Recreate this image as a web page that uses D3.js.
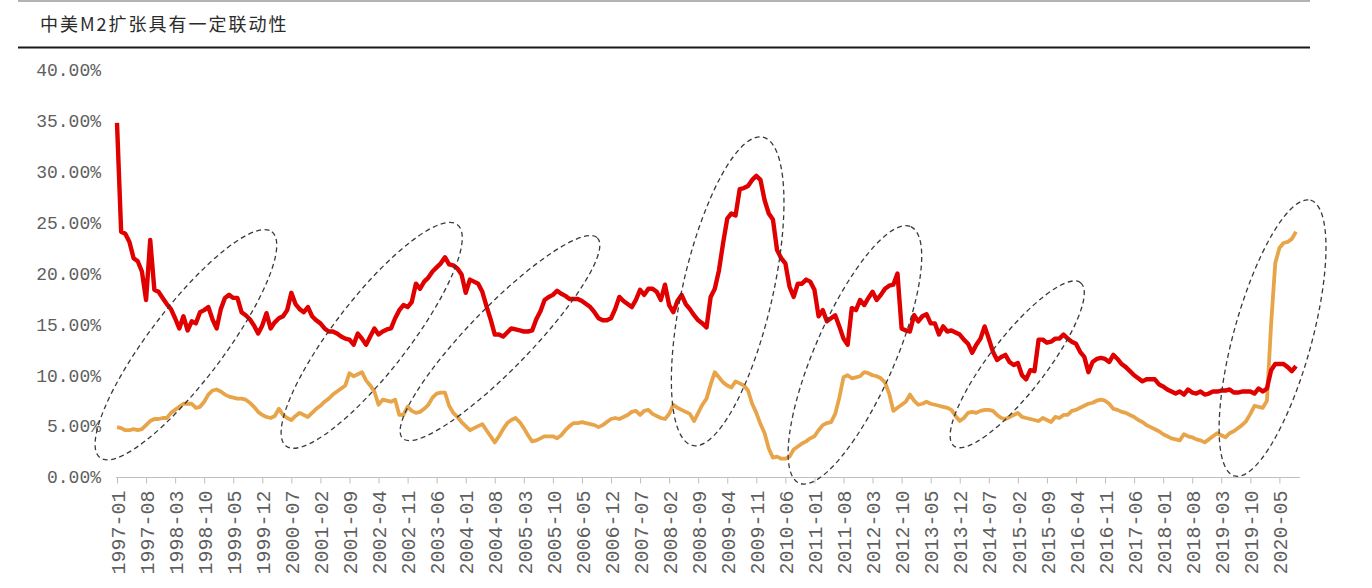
<!DOCTYPE html>
<html><head><meta charset="utf-8">
<script src="https://cdn.jsdelivr.net/npm/d3@7/dist/d3.min.js"></script>
<style>body{margin:0;background:#fff}</style>
</head><body><svg id="c" width="1372" height="588"></svg>
<script>
const title = "中美M2扩张具有一定联动性";

// China M2 YoY (%), monthly from 1997-01
const chinaM2 = [
34.8,24.1,23.9,23.1,21.5,21.2,20.2,17.4,23.3,18.4,18.2,17.6,
17.0,16.5,15.6,14.6,15.8,14.4,15.3,15.1,16.2,16.4,16.7,15.5,
14.6,16.5,17.6,17.9,17.6,17.6,16.2,15.9,15.5,14.9,14.1,14.9,
16.1,14.6,15.2,15.6,15.8,16.4,18.1,17.0,16.5,16.2,16.7,15.8,
15.4,15.1,14.6,14.3,14.3,14.1,13.8,13.6,13.5,13.0,14.1,13.6,
13.0,13.8,14.6,14.0,14.3,14.5,14.6,15.6,16.4,16.9,16.7,17.2,
19.0,18.5,19.2,19.6,20.2,20.6,21.0,21.6,20.9,20.8,20.5,19.9,
18.1,19.4,19.2,19.0,18.2,16.8,15.5,14.0,14.0,13.8,14.2,14.6,
14.5,14.4,14.3,14.3,14.4,15.5,16.3,17.4,17.7,17.9,18.3,18.0,
17.8,17.5,17.5,17.5,17.3,17.0,16.7,16.2,15.6,15.4,15.4,15.6,
16.5,17.7,17.3,17.0,16.7,17.4,18.4,17.9,18.5,18.5,18.2,17.4,
18.9,16.9,16.2,17.3,17.9,17.0,16.5,15.9,15.4,15.1,14.7,17.7,
18.5,20.3,23.0,25.4,25.9,25.7,28.3,28.4,28.6,29.2,29.6,29.2,
27.2,25.9,25.3,22.3,21.5,21.0,18.7,17.7,19.0,19.0,19.4,19.2,
18.4,15.8,16.4,15.3,15.6,15.9,14.8,13.6,13.0,16.6,16.4,17.4,
16.9,17.6,18.2,17.4,17.9,18.5,18.8,18.9,20.0,14.6,14.4,14.3,
15.9,15.3,15.8,16.0,15.1,15.1,14.0,14.8,14.3,14.4,14.2,14.0,
13.5,13.1,12.2,13.0,13.6,14.8,13.6,12.3,11.5,11.8,12.0,11.3,
11.0,11.2,10.0,9.6,10.5,10.4,13.5,13.5,13.2,13.3,13.6,13.6,
14.0,13.6,13.3,13.1,12.3,11.8,10.3,11.3,11.6,11.7,11.6,11.3,
12.0,11.6,11.1,10.8,10.4,10.0,9.7,9.4,9.6,9.6,9.6,9.1,
8.9,8.6,8.4,8.2,8.4,8.1,8.6,8.3,8.2,8.4,8.1,8.2,
8.4,8.4,8.5,8.5,8.6,8.3,8.3,8.4,8.4,8.4,8.2,8.7,
8.4,8.7,10.5,11.1,11.1,11.1,10.8,10.4,10.9
];

// US M2 YoY (%), monthly from 1997-01
const usM2 = [
4.9,4.8,4.6,4.6,4.7,4.6,4.7,5.1,5.5,5.7,5.7,5.8,
5.8,6.3,6.6,6.9,7.2,7.2,7.2,6.8,6.9,7.4,8.1,8.5,
8.6,8.4,8.1,7.9,7.8,7.7,7.7,7.6,7.3,6.9,6.4,6.1,
5.9,5.8,6.0,6.7,6.1,5.8,5.6,6.0,6.3,6.1,5.9,6.3,
6.7,7.0,7.4,7.7,8.1,8.4,8.7,9.0,10.2,9.9,10.1,10.3,
9.5,9.0,8.4,7.1,7.6,7.5,7.4,7.6,6.1,6.1,6.9,6.5,
6.3,6.4,6.7,7.1,7.8,8.2,8.3,8.3,7.0,6.3,5.9,5.4,
5.0,4.6,4.8,5.0,5.2,4.6,4.0,3.4,4.0,4.7,5.3,5.6,
5.8,5.4,4.8,4.1,3.5,3.6,3.8,4.0,4.0,4.0,3.8,4.1,
4.6,5.0,5.3,5.3,5.4,5.3,5.2,5.1,4.9,5.1,5.4,5.7,
5.8,5.7,5.9,6.1,6.4,6.5,6.1,6.5,6.6,6.2,6.0,5.8,
5.7,6.2,7.1,6.8,6.6,6.4,6.2,5.5,6.3,7.1,7.7,9.1,
10.3,9.8,9.3,9.0,8.8,9.4,9.2,9.0,8.5,7.2,6.3,5.2,
4.3,2.8,1.9,2.0,1.8,1.8,2.0,2.7,3.0,3.3,3.5,3.8,
4.0,4.6,5.1,5.3,5.4,6.2,7.8,9.8,10.0,9.7,9.8,9.9,
10.3,10.2,10.0,9.9,9.7,9.3,8.2,6.5,6.8,7.1,7.4,8.1,
7.5,7.1,7.2,7.4,7.2,7.1,7.0,6.9,6.8,6.6,6.0,5.5,
5.8,6.3,6.4,6.3,6.5,6.6,6.6,6.5,6.1,5.8,5.7,5.9,
6.1,6.3,5.9,5.8,5.7,5.6,5.5,5.8,5.6,5.4,5.9,5.8,
6.1,6.1,6.5,6.6,6.8,7.0,7.2,7.3,7.5,7.6,7.5,7.2,
6.7,6.6,6.4,6.3,6.1,5.9,5.6,5.4,5.1,4.9,4.7,4.5,
4.2,4.0,3.8,3.7,3.6,4.2,4.0,3.9,3.7,3.6,3.4,3.7,
4.0,4.3,4.1,3.9,4.3,4.5,4.8,5.1,5.5,6.2,7.0,6.9,
6.8,7.5,15.0,21.0,22.5,23.0,23.1,23.4,24.1
];

const yTicks = [0,5,10,15,20,25,30,35,40];
const xTickLabels = ["1997-01","1997-08","1998-03","1998-10","1999-05","1999-12","2000-07","2001-02","2001-09","2002-04","2002-11","2003-06","2004-01","2004-08","2005-03","2005-10","2006-05","2006-12","2007-07","2008-02","2008-09","2009-04","2009-11","2010-06","2011-01","2011-08","2012-03","2012-10","2013-05","2013-12","2014-07","2015-02","2015-09","2016-04","2016-11","2017-06","2018-01","2018-08","2019-03","2019-10","2020-05"];

// categories: one per month starting 1997-01
const months = d3.range(chinaM2.length).map(i => (1997 + Math.floor(i/12)) + "-" + String(i%12+1).padStart(2,"0"));

// dashed highlight ellipses: major-axis ends in (month index, value %) and half width
const highlights = [
  {m0:-4.1, v0:1.9, m1:37.3, v1:24.1, w:37},
  {m0:40.7, v0:3.05, m1:82.0, v1:24.8, w:37},
  {m0:68.8, v0:3.8, m1:115.7, v1:23.5, w:31},
  {m0:138.6, v0:3.1, m1:155.6, v1:33.4, w:45},
  {m0:164.3, v0:-0.6, m1:191.2, v1:24.6, w:40},
  {m0:201.6, v0:3.05, m1:232.1, v1:19.1, w:28},
  {m0:269.2, v0:0.1, m1:287.5, v1:27.2, w:39}
];

const svg = d3.select("#c");
const x = d3.scalePoint().domain(months).range([117, 1296]);
const xl = d3.scaleLinear().domain([0, months.length-1]).range(x.range());
const y = d3.scaleLinear().domain([0, 40]).range([477, 70]);

// header
svg.append("line").attr("x1",18).attr("x2",1310).attr("y1",1).attr("y2",1).attr("stroke","#9a9a9a").attr("stroke-width",1.5);
svg.append("text").attr("x",40).attr("y",31).text(title)
  .attr("font-family","'Noto Sans CJK SC', sans-serif").attr("font-size",18).attr("letter-spacing",2).attr("fill","#2b2b2b");
svg.append("line").attr("x1",18).attr("x2",1310).attr("y1",47.5).attr("y2",47.5).attr("stroke","#1a1a1a").attr("stroke-width",2);

// y axis labels
const ya = svg.append("g").attr("transform","translate(101,0)")
  .call(d3.axisLeft(y).tickValues(yTicks).tickSize(0).tickPadding(0).tickFormat(d => d.toFixed(2) + "%"));
ya.select(".domain").remove();
ya.selectAll("text").attr("font-family","'Liberation Mono', monospace").attr("font-size",18).attr("fill","#5f5f5f");

// x axis
svg.append("line").attr("x1",116).attr("x2",1300).attr("y1",477.5).attr("y2",477.5).attr("stroke","#bfbfbf").attr("stroke-width",1);
const xa = svg.append("g").attr("transform","translate(0,477.5)")
  .call(d3.axisBottom(x).tickValues(xTickLabels).tickSize(6));
xa.select(".domain").remove();
xa.selectAll(".tick line").attr("stroke","#bfbfbf");
xa.selectAll("text").attr("transform","rotate(-90)").attr("x",-13).attr("y",0).attr("dy","0.36em")
  .attr("text-anchor","end").attr("font-family","'Liberation Mono', monospace").attr("font-size",20).attr("fill","#5f5f5f");

// lines
const line = d3.line().x((d,i) => x(months[i])).y(d => y(d));
svg.append("path").datum(usM2).attr("d", line).attr("fill","none").attr("stroke","#E8A449").attr("stroke-width",3.8).attr("stroke-linejoin","round");
svg.append("path").datum(chinaM2).attr("d", line).attr("fill","none").attr("stroke","#E00000").attr("stroke-width",4.4).attr("stroke-linejoin","round");

// ellipses
highlights.forEach(h => {
  const x0 = xl(h.m0), y0 = y(h.v0), x1 = xl(h.m1), y1 = y(h.v1);
  const cx = (x0+x1)/2, cy = (y0+y1)/2;
  const a = Math.hypot(x1-x0, y1-y0)/2;
  const ang = Math.atan2(y1-y0, x1-x0) * 180 / Math.PI;
  svg.append("ellipse").attr("cx",0).attr("cy",0).attr("rx",a).attr("ry",h.w)
    .attr("transform",`translate(${cx},${cy}) rotate(${ang})`)
    .attr("fill","none").attr("stroke","#3a3a3a").attr("stroke-width",1.3).attr("stroke-dasharray","5,3.5");
});
</script></body></html>
